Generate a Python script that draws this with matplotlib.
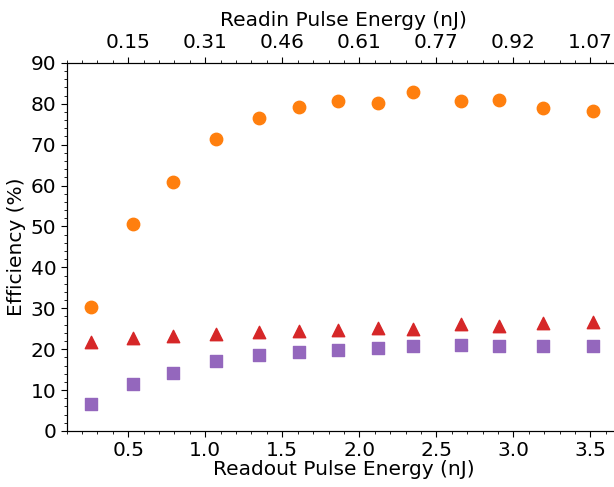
#!/usr/bin/env python3
"""Efficiency vs readout pulse energy, with readin energy on the top axis."""

import matplotlib
matplotlib.use("Agg")
import matplotlib.pyplot as plt
from matplotlib.ticker import MultipleLocator

# readout pulse energy (nJ) for each measurement
readout_nj = [0.26, 0.53, 0.79, 1.07, 1.35, 1.61, 1.86, 2.12, 2.35, 2.66, 2.91, 3.19, 3.52]

eff_circle = [30.3, 50.5, 60.9, 71.5, 76.5, 79.1, 80.7, 80.1, 82.8, 80.7, 80.8, 78.9, 78.2]
eff_triangle = [21.8, 22.8, 23.3, 23.7, 24.2, 24.4, 24.6, 25.2, 24.9, 26.1, 25.6, 26.3, 26.7]
eff_square = [6.7, 11.6, 14.2, 17.1, 18.5, 19.3, 19.9, 20.2, 20.7, 21.0, 20.7, 20.7, 20.8]

bottom_ticks = [0.5, 1.0, 1.5, 2.0, 2.5, 3.0, 3.5]
top_tick_labels = ["0.15", "0.31", "0.46", "0.61", "0.77", "0.92", "1.07"]

plt.rcParams["font.family"] = "DejaVu Sans"
plt.rcParams["font.size"] = 14.5

fig = plt.figure(figsize=(6.14, 4.87), dpi=100)
ax = fig.add_axes([0.1086, 0.1150, 0.9030, 0.7560])

ax.scatter(readout_nj, eff_circle, marker="o", s=80, color="#ff7f0e", zorder=3)
ax.scatter(readout_nj, eff_triangle, marker="^", s=80, color="#d62728", zorder=3)
ax.scatter(readout_nj, eff_square, marker="s", s=70, color="#9467bd", zorder=3)

ax.set_xlim(0.1, 3.7)
ax.set_ylim(0, 90)
ax.set_xticks(bottom_ticks)
ax.xaxis.set_minor_locator(MultipleLocator(0.1))
ax.yaxis.set_major_locator(MultipleLocator(10))
ax.yaxis.set_minor_locator(MultipleLocator(2))
ax.tick_params(which="major", length=4, width=0.8, labelsize=14.5)
ax.tick_params(which="minor", length=2, width=0.6)
ax.set_xlabel("Readout Pulse Energy (nJ)", labelpad=0)
ax.set_ylabel("Efficiency (%)", labelpad=3)
ax.spines["right"].set_visible(False)

top = ax.twiny()
top.set_xlim(ax.get_xlim())
top.set_xticks(bottom_ticks)
top.set_xticklabels(top_tick_labels)
top.xaxis.set_minor_locator(MultipleLocator(0.1))
top.tick_params(which="major", length=4, width=0.8, labelsize=14.5)
top.tick_params(which="minor", length=2, width=0.6)
top.set_xlabel("Readin Pulse Energy (nJ)", labelpad=5)
top.spines["right"].set_visible(False)

fig.savefig("out.png", dpi=100)
